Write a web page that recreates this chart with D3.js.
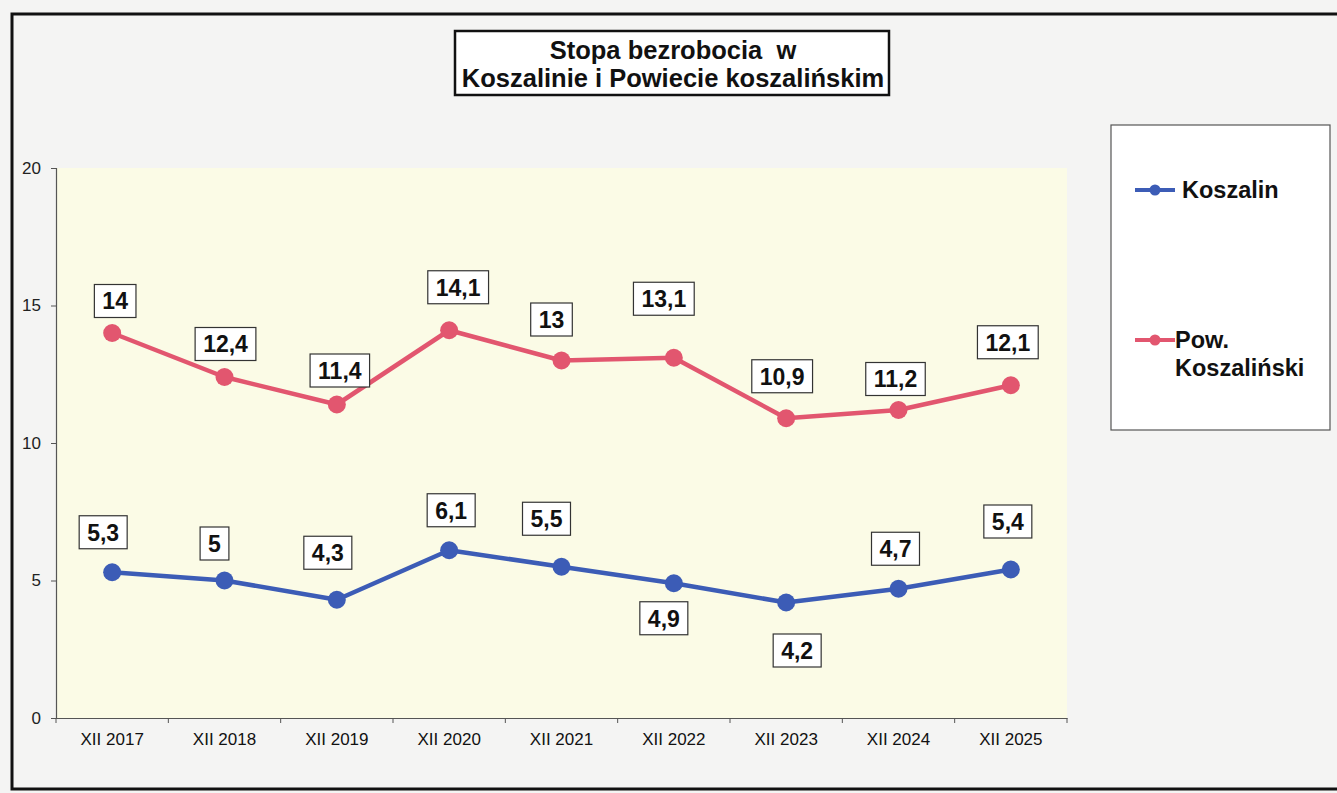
<!DOCTYPE html>
<html>
<head>
<meta charset="utf-8">
<script src="https://cdn.jsdelivr.net/npm/d3@7"></script>
<style>
  html, body { margin: 0; padding: 0; background: #f4f4f3; }
  svg { display: block; }
</style>
</head>
<body>
<svg id="chart" width="1337" height="793"></svg>
<script>
const categories = ["XII 2017","XII 2018","XII 2019","XII 2020","XII 2021","XII 2022","XII 2023","XII 2024","XII 2025"];
const koszalin = [5.3, 5, 4.3, 6.1, 5.5, 4.9, 4.2, 4.7, 5.4];
const powiat = [14, 12.4, 11.4, 14.1, 13, 13.1, 10.9, 11.2, 12.1];
const yTicks = [0, 5, 10, 15, 20];
const titleLines = ["Stopa bezrobocia  w", "Koszalinie i Powiecie koszalińskim"];
const seriesNames = [["Koszalin"], ["Pow.", "Koszaliński"]];
// label placement (pixel offsets from point)
const koszalinLabelDx = [-9, -10, -9, 2, -15, -10, 11, -3, -3];
const koszalinLabelDy = [-40, -37, -47, -40, -48, 35, 48, -40, -48];
const powiatLabelDx = [3, 1, 3, 9, -10, -10, -4, -3, -3];
const powiatLabelDy = [-32, -33, -34, -43, -41, -59, -42, -31, -43];

const svg = d3.select("#chart");
const font = "'Liberation Sans', Arial, sans-serif";
const blue = "#3c5cb6", red = "#e2566f";

// outer frame
svg.append("rect").attr("x", 12).attr("y", 14).attr("width", 1340).attr("height", 775)
  .attr("fill", "#f4f4f3").attr("stroke", "#111").attr("stroke-width", 3);

const plot = {left: 56, right: 1067, top: 168, bottom: 718};
const x = d3.scaleBand().domain(categories).range([plot.left, plot.right]);
const y = d3.scaleLinear().domain([0, 20]).range([plot.bottom, plot.top]);

svg.append("rect").attr("x", plot.left).attr("y", plot.top)
  .attr("width", plot.right - plot.left).attr("height", plot.bottom - plot.top)
  .attr("fill", "#fbfbe6");

// axes
const yAxis = svg.append("g").attr("transform", `translate(${plot.left},0)`)
  .call(d3.axisLeft(y).tickValues(yTicks).tickSize(5).tickPadding(10));
yAxis.select(".domain").attr("stroke", "#555").attr("stroke-width", 1.2);
yAxis.selectAll(".tick line").attr("stroke", "#555");
yAxis.selectAll("text").attr("font-family", font).attr("font-size", 17).attr("fill", "#222");

const xAxis = svg.append("g").attr("transform", `translate(0,${plot.bottom})`)
  .call(d3.axisBottom(x).tickSizeOuter(0).tickSize(0).tickPadding(15));
xAxis.select(".domain").attr("stroke", "#555").attr("stroke-width", 1.2);
xAxis.selectAll("text").attr("font-family", font).attr("font-size", 17).attr("fill", "#111");
// tick marks at band edges
const edges = categories.map(c => x(c)).concat([plot.right]);
xAxis.selectAll("line.edge").data(edges).enter().append("line")
  .attr("class", "edge").attr("x1", d => d).attr("x2", d => d)
  .attr("y1", 0).attr("y2", 5).attr("stroke", "#555");

const cx = c => x(c) + x.bandwidth() / 2;
const line = d3.line().x((d, i) => cx(categories[i])).y(d => y(d));

function drawSeries(values, color, dxs, dys) {
  svg.append("path").datum(values).attr("d", line)
    .attr("fill", "none").attr("stroke", color).attr("stroke-width", 4.5)
    .attr("stroke-linejoin", "round");
  svg.append("g").selectAll("circle").data(values).enter().append("circle")
    .attr("cx", (d, i) => cx(categories[i])).attr("cy", d => y(d)).attr("r", 9)
    .attr("fill", color);
  const g = svg.append("g").selectAll("g").data(values).enter().append("g")
    .attr("transform", (d, i) => `translate(${cx(categories[i]) + dxs[i]},${y(d) + dys[i]})`);
  g.each(function(d) {
    const s = String(d).replace(".", ",");
    const sel = d3.select(this);
    const t = sel.append("text").text(s).attr("text-anchor", "middle").attr("dy", "0.36em")
      .attr("font-family", font).attr("font-weight", "bold").attr("font-size", 23).attr("fill", "#111");
    const w = t.node().getComputedTextLength();
    sel.insert("rect", "text").attr("x", -w / 2 - 8).attr("y", -16.5).attr("width", w + 16).attr("height", 33)
      .attr("fill", "#fff").attr("stroke", "#333").attr("stroke-width", 1.2);
  });
}
drawSeries(powiat, red, powiatLabelDx, powiatLabelDy);
drawSeries(koszalin, blue, koszalinLabelDx, koszalinLabelDy);

// title
svg.append("rect").attr("x", 455).attr("y", 31).attr("width", 434).attr("height", 64)
  .attr("fill", "#fff").attr("stroke", "#111").attr("stroke-width", 2.5);
svg.append("g").selectAll("text").data(titleLines).enter().append("text")
  .attr("x", 673).attr("y", (d, i) => 59 + i * 28).attr("text-anchor", "middle")
  .attr("font-family", font).attr("font-weight", "bold").attr("font-size", 25.5).attr("fill", "#111")
  .attr("xml:space", "preserve").style("white-space", "pre").text(d => d);

// legend
svg.append("rect").attr("x", 1111).attr("y", 125).attr("width", 219).attr("height", 305)
  .attr("fill", "#fff").attr("stroke", "#555").attr("stroke-width", 1.2);
const legendY = [190, 340];
const legendColors = [blue, red];
seriesNames.forEach((lines, i) => {
  const g = svg.append("g").attr("transform", `translate(1135,${legendY[i]})`);
  g.append("line").attr("x1", 0).attr("x2", 40).attr("y1", 0).attr("y2", 0)
    .attr("stroke", legendColors[i]).attr("stroke-width", 4);
  g.append("circle").attr("cx", 20).attr("cy", 0).attr("r", 5.5).attr("fill", legendColors[i]);
  g.selectAll("text").data(lines).enter().append("text")
    .attr("x", i === 0 ? 47 : 40).attr("y", (d, j) => j * 28).attr("dy", "0.35em")
    .attr("font-family", font).attr("font-weight", "bold").attr("font-size", 23.5).attr("fill", "#111")
    .text(d => d);
});
</script>
</body>
</html>
